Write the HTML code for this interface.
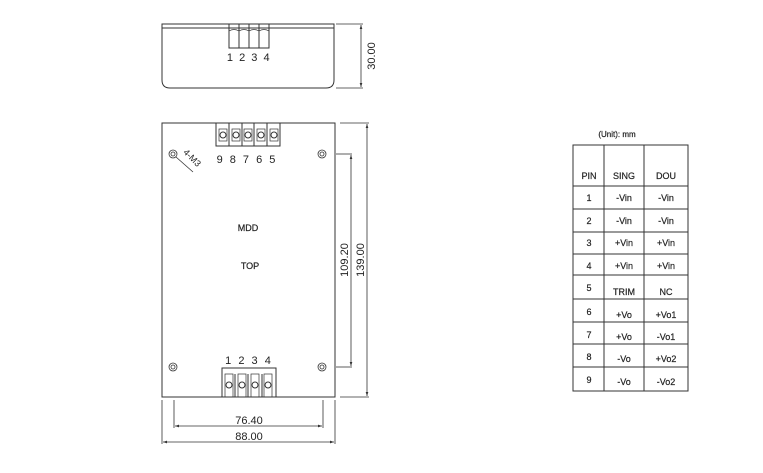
<!DOCTYPE html>
<html><head><meta charset="utf-8"><style>
html,body{margin:0;padding:0;background:#fff;width:763px;height:473px;overflow:hidden}
svg{display:block}
text{font-family:"Liberation Sans","DejaVu Sans",sans-serif;fill:#222}
</style></head><body>
<svg width="763" height="473" viewBox="0 0 763 473" xmlns="http://www.w3.org/2000/svg">
<defs>
<marker id="a" viewBox="0 0 6 6" refX="6" refY="3" markerWidth="5" markerHeight="5" orient="auto-start-reverse"><path d="M0,1 L6,3 L0,5 z" fill="#333"/></marker>
</defs>
<g stroke="#333" fill="none" stroke-width="1">
<path d="M162,24 H334 V80 Q334,88 326,88 H170 Q162,88 162,80 Z"/>
<line x1="162" y1="28" x2="334" y2="28"/>
<rect x="229" y="24" width="40" height="24"/>
<line x1="239" y1="24" x2="239" y2="48"/><line x1="249" y1="24" x2="249" y2="48"/><line x1="259" y1="24" x2="259" y2="48"/>
<path d="M229,31 q5,-3 10,0 q5,-3 10,0 q5,-3 10,0 q5,-3 10,0" stroke-width="0.7"/>
<line x1="336" y1="24" x2="363" y2="24" stroke-width="0.8"/>
<line x1="336" y1="88" x2="363" y2="88" stroke-width="0.8"/>
<line x1="361" y1="25" x2="361" y2="87" marker-start="url(#a)" marker-end="url(#a)" stroke-width="0.8"/>

<rect x="162" y="123" width="173" height="274"/>
<rect x="216" y="123" width="64" height="23"/>
<line x1="229" y1="123" x2="229" y2="146"/><line x1="242" y1="123" x2="242" y2="146"/><line x1="254" y1="123" x2="254" y2="146"/><line x1="267" y1="123" x2="267" y2="146"/>
<rect x="219" y="129" width="8" height="12" stroke-width="0.7"/><rect x="232" y="129" width="8" height="12" stroke-width="0.7"/><rect x="244" y="129" width="8" height="12" stroke-width="0.7"/><rect x="257" y="129" width="8" height="12" stroke-width="0.7"/><rect x="270" y="129" width="8" height="12" stroke-width="0.7"/>
<circle cx="223" cy="135" r="3"/><circle cx="236" cy="135" r="3"/><circle cx="248" cy="135" r="3"/><circle cx="261" cy="135" r="3"/><circle cx="274" cy="135" r="3"/>

<rect x="222" y="368" width="54" height="29"/>
<line x1="235" y1="374" x2="235" y2="397"/><line x1="248" y1="374" x2="248" y2="397"/><line x1="262" y1="374" x2="262" y2="397"/>
<rect x="225" y="374" width="8" height="23" stroke-width="0.7"/><rect x="238" y="374" width="8" height="23" stroke-width="0.7"/><rect x="251" y="374" width="8" height="23" stroke-width="0.7"/><rect x="264" y="374" width="8" height="23" stroke-width="0.7"/>
<circle cx="229" cy="385" r="3"/><circle cx="242" cy="385" r="3"/><circle cx="255" cy="385" r="3"/><circle cx="268" cy="385" r="3"/>

<g stroke-width="0.8">
<circle cx="173" cy="154" r="4"/><circle cx="173" cy="154" r="2"/>
<circle cx="322" cy="154" r="4"/><circle cx="322" cy="154" r="2"/>
<circle cx="173" cy="367" r="4"/><circle cx="173" cy="367" r="2"/>
<circle cx="322" cy="367" r="4"/><circle cx="322" cy="367" r="2"/>
<line x1="176" y1="157" x2="193" y2="172"/>
</g>

<g stroke-width="0.8">
<line x1="336" y1="154" x2="352" y2="154"/><line x1="336" y1="367" x2="352" y2="367"/>
<line x1="351" y1="155" x2="351" y2="366" marker-start="url(#a)" marker-end="url(#a)"/>
<line x1="340" y1="123" x2="369" y2="123"/><line x1="340" y1="397" x2="369" y2="397"/>
<line x1="367" y1="124" x2="367" y2="396" marker-start="url(#a)" marker-end="url(#a)"/>
<line x1="174" y1="400" x2="174" y2="428"/><line x1="323" y1="400" x2="323" y2="428"/>
<line x1="175" y1="426" x2="322" y2="426" marker-start="url(#a)" marker-end="url(#a)"/>
<line x1="162" y1="400" x2="162" y2="444"/><line x1="335" y1="400" x2="335" y2="444"/>
<line x1="163" y1="442" x2="334" y2="442" marker-start="url(#a)" marker-end="url(#a)"/>
</g>

<rect x="573" y="145" width="115" height="246"/>
<line x1="604" y1="145" x2="604" y2="391"/><line x1="644" y1="145" x2="644" y2="391"/>
<line x1="573" y1="186" x2="688" y2="186"/><line x1="573" y1="209" x2="688" y2="209"/>
<line x1="573" y1="232" x2="688" y2="232"/><line x1="573" y1="254" x2="688" y2="254"/>
<line x1="573" y1="275" x2="688" y2="275"/><line x1="573" y1="299" x2="688" y2="299"/>
<line x1="573" y1="322" x2="688" y2="322"/><line x1="573" y1="344" x2="688" y2="344"/>
<line x1="573" y1="367" x2="688" y2="367"/>
</g>

<g font-size="11" text-anchor="middle">
<text x="249" y="61" letter-spacing="1.5">1 2 3 4</text>
<text x="247" y="163" letter-spacing="2">9 8 7 6 5</text>
<text x="249" y="364" letter-spacing="2">1 2 3 4</text>
<text x="249" y="424">76.40</text>
<text x="249" y="440">88.00</text>
<text transform="translate(375,56) rotate(-90)">30.00</text>
<text transform="translate(348,260) rotate(-90)">109.20</text>
<text transform="translate(364,260) rotate(-90)">139.00</text>
<text transform="translate(190,160) rotate(45)" font-size="9">4-M3</text>
</g>
<g font-size="9" text-anchor="middle" style="paint-order:stroke" stroke="#222" stroke-width="0.2">
<text x="248" y="231">MDD</text>
<text x="250" y="269">TOP</text>
<text x="617" y="137" font-size="8">(Unit): mm</text>
<text x="589" y="179">PIN</text><text x="624" y="179">SING</text><text x="666" y="179">DOU</text>
<text x="589" y="201">1</text><text x="624" y="201">-Vin</text><text x="666" y="201">-Vin</text>
<text x="589" y="224">2</text><text x="624" y="224">-Vin</text><text x="666" y="224">-Vin</text>
<text x="589" y="246">3</text><text x="624" y="246">+Vin</text><text x="666" y="246">+Vin</text>
<text x="589" y="269">4</text><text x="624" y="269">+Vin</text><text x="666" y="269">+Vin</text>
<text x="589" y="291">5</text><text x="624" y="295">TRIM</text><text x="666" y="295">NC</text>
<text x="589" y="315">6</text><text x="624" y="318">+Vo</text><text x="666" y="318">+Vo1</text>
<text x="589" y="338">7</text><text x="624" y="340">+Vo</text><text x="666" y="340">-Vo1</text>
<text x="589" y="360">8</text><text x="624" y="362">-Vo</text><text x="666" y="362">+Vo2</text>
<text x="589" y="383">9</text><text x="624" y="385">-Vo</text><text x="666" y="385">-Vo2</text>
</g>
</svg>
</body></html>
